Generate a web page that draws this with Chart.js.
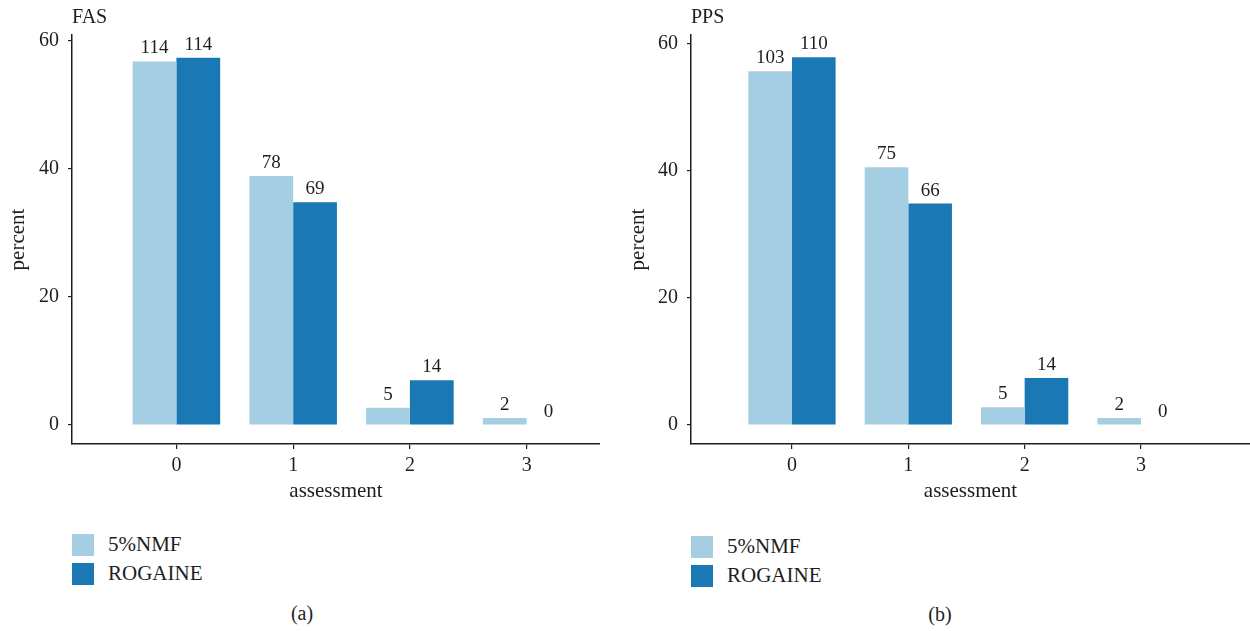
<!DOCTYPE html>
<html lang="en">
  <head>
    <meta charset="UTF-8" />
    <title>FAS / PPS assessment</title>
    <style>
      body {
        margin: 0;
        background: #fff;
        font-family: "Liberation Serif", "DejaVu Serif", serif;
        color: #1e1e1e;
      }
      .wrap {
        position: relative;
        width: 1250px;
        height: 631px;
      }
      canvas {
        position: absolute;
        top: 0;
      }
      .legend {
        position: absolute;
        font-size: 21px;
      }
      .legend div {
        height: 29px;
        display: flex;
        align-items: center;
      }
      .legend span.box {
        display: inline-block;
        width: 22px;
        height: 22px;
        margin-right: 14px;
      }
      .tag {
        position: absolute;
        font-size: 20px;
        transform: translate(-50%, -50%);
      }
    </style>
  </head>
  <body>
    <div class="wrap">
      <canvas id="fasChart" style="left: 0px" width="600" height="510"></canvas>
      <canvas id="ppsChart" style="left: 620px" width="630" height="510"></canvas>
      <div class="legend" id="fasLegend" style="left: 72px; top: 530px"></div>
      <div class="legend" id="ppsLegend" style="left: 691px; top: 532px"></div>
      <div class="tag" style="left: 302px; top: 613px">(a)</div>
      <div class="tag" style="left: 940px; top: 614px">(b)</div>
    </div>

    <script src="https://cdn.jsdelivr.net/npm/chart.js"></script>

    <script>
      // assessment grades on the x axis
      const assessment = [0, 1, 2, 3];
      const yTicks = [0, 20, 40, 60];
      const seriesNames = ["5%NMF", "ROGAINE"];

      // FAS: percent per grade, and the counts printed over the bars
      const fasNmf = [56.8, 38.9, 2.7, 1.1];
      const fasRogaine = [57.4, 34.8, 7.0, 0];
      const fasNmfN = [114, 78, 5, 2];
      const fasRogaineN = [114, 69, 14, 0];

      // PPS
      const ppsNmf = [55.6, 40.5, 2.8, 1.1];
      const ppsRogaine = [57.8, 34.8, 7.4, 0];
      const ppsNmfN = [103, 75, 5, 2];
      const ppsRogaineN = [110, 66, 14, 0];

      const colors = ["#a6cee3", "#1a78b4"];
      const ink = "#1e1e1e";

      Chart.defaults.font.family = '"Liberation Serif", "DejaVu Serif", serif';
      Chart.defaults.font.size = 20;
      Chart.defaults.color = ink;

      // counts above each bar + panel title in the top left
      const barLabels = {
        id: "barLabels",
        afterDatasetsDraw(chart) {
          const ctx = chart.ctx;
          ctx.save();
          ctx.font = '19px "Liberation Serif", serif';
          ctx.fillStyle = ink;
          ctx.textAlign = "center";
          ctx.textBaseline = "alphabetic";
          chart.data.datasets.forEach((ds, di) => {
            chart.getDatasetMeta(di).data.forEach((bar, i) => {
              ctx.fillText(ds.counts[i], bar.x, bar.y - 8);
            });
          });
          ctx.font = '20px "Liberation Serif", serif';
          ctx.textAlign = "left";
          ctx.fillText(chart.options.plugins.barLabels.title, chart.chartArea.left, 23);
          ctx.restore();
        },
      };

      function toPoints(values) {
        return values.map((v, i) => ({ x: assessment[i], y: v }));
      }

      function makeChart(id, title, nmf, rog, nmfN, rogN, xMin, xMax, yMin, yMax, yWidth) {
        const ctx = document.getElementById(id).getContext("2d");
        return new Chart(ctx, {
          type: "bar",
          data: {
            datasets: [
              {
                label: seriesNames[0],
                data: toPoints(nmf),
                counts: nmfN,
                backgroundColor: colors[0],
              },
              {
                label: seriesNames[1],
                data: toPoints(rog),
                counts: rogN,
                backgroundColor: colors[1],
              },
            ],
          },
          options: {
            responsive: false,
            animation: false,
            categoryPercentage: 0.75,
            barPercentage: 1.0,
            borderWidth: 0,
            layout: { padding: { left: 0, right: 0, top: 35, bottom: 0 } },
            plugins: {
              legend: { display: false },
              tooltip: { enabled: false },
              barLabels: { title: title },
            },
            scales: {
              x: {
                type: "linear",
                min: xMin,
                max: xMax,
                offset: false,
                grid: {
                  offset: false,
                  drawOnChartArea: false,
                  tickLength: 5,
                  color: ink,
                  lineWidth: 1.2,
                },
                border: { display: true, color: ink, width: 1.5 },
                ticks: { padding: 5, color: ink, callback: (v) => String(v) },
                title: {
                  display: true,
                  text: "assessment",
                  color: ink,
                  font: { size: 21 },
                  padding: { top: 0, bottom: 6 },
                },
                afterBuildTicks: (s) => {
                  s.ticks = assessment.map((v) => ({ value: v }));
                },
                afterFit: (s) => {
                  s.height = 66;
                },
              },
              y: {
                type: "linear",
                min: yMin,
                max: yMax,
                grid: {
                  drawOnChartArea: false,
                  tickLength: 4,
                  color: ink,
                  lineWidth: 1.2,
                },
                border: { display: true, color: ink, width: 1.5 },
                ticks: { padding: 9, color: ink },
                title: {
                  display: true,
                  text: "percent",
                  color: ink,
                  font: { size: 21 },
                  padding: { top: 6, bottom: 0 },
                },
                afterBuildTicks: (s) => {
                  s.ticks = yTicks.map((v) => ({ value: v }));
                },
                afterFit: (s) => {
                  s.width = yWidth;
                },
              },
            },
          },
          plugins: [barLabels],
        });
      }

      function makeLegend(id) {
        const el = document.getElementById(id);
        seriesNames.forEach((name, i) => {
          const row = document.createElement("div");
          const box = document.createElement("span");
          box.className = "box";
          box.style.background = colors[i];
          row.appendChild(box);
          row.appendChild(document.createTextNode(name));
          el.appendChild(row);
        });
      }

      makeChart("fasChart", "FAS", fasNmf, fasRogaine, fasNmfN, fasRogaineN, -0.894, 3.628, -2.97, 60.94, 72);
      makeChart("ppsChart", "PPS", ppsNmf, ppsRogaine, ppsNmfN, ppsRogaineN, -0.868, 3.937, -2.99, 61.3, 71);
      makeLegend("fasLegend");
      makeLegend("ppsLegend");
    </script>
  </body>
</html>
